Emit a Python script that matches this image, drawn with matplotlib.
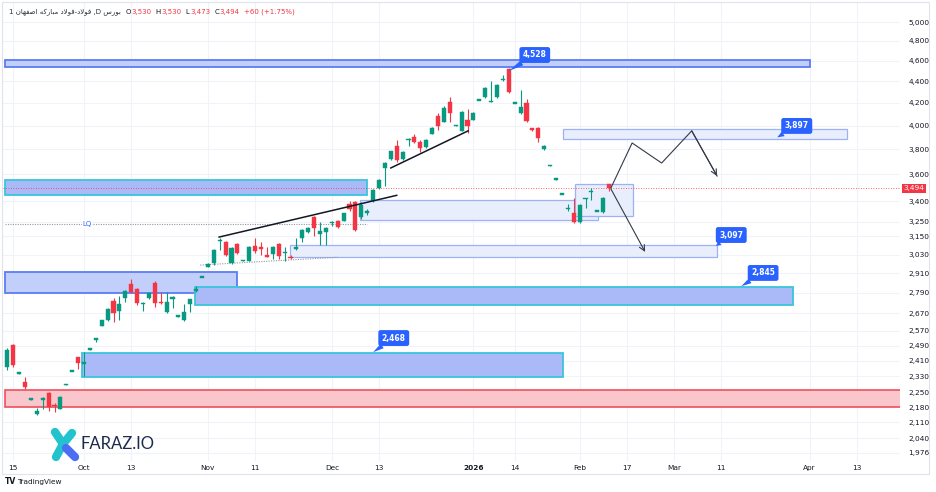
import matplotlib
matplotlib.use("Agg")
import matplotlib.pyplot as plt
import matplotlib.transforms as mtransforms
from matplotlib.patches import Rectangle
from matplotlib.lines import Line2D
from matplotlib.ticker import FixedLocator, NullLocator, FixedFormatter

# ---------------- data ----------------
opens = [2380, 2495, 2345, 2302, 2218, 2148, 2215, 2249, 2190, 2172,
         2290, 2356, 2430, 2395, 2470, 2520, 2600, 2631, 2741, 2683,
         2760, 2845, 2813, 2725, 2760, 2850, 2735, 2677, 2755, 2652,
         2631, 2724, 2800, 2885, 2950, 2975, 3120, 3113, 2975, 3100,
         2992, 2988, 3087, 3075, 3030, 3033, 3100, 3040, 3015, 3068,
         3140, 3180, 3285, 3170, 3180, 3240, 3260, 3260, 3380, 3394,
         3285, 3310, 3400, 3500, 3650, 3722, 3828, 3722, 3875, 3900,
         3860, 3820, 3930, 4080, 4035, 4210, 3998, 3955, 4050, 4050,
         4225, 4250, 4210, 4250, 4410, 4522, 4198, 4110, 4200, 3975,
         3980, 3800, 3668, 3563, 3451, 3340, 3310, 3250, 3415, 3465,
         3328, 3320, 3530]
highs = [2475, 2500, 2350, 2327, 2222, 2177, 2228, 2252, 2200, 2232,
         2294, 2360, 2432, 2455, 2474, 2532, 2632, 2700, 2760, 2772,
         2805, 2874, 2820, 2735, 2795, 2862, 2795, 2795, 2770, 2656,
         2724, 2755, 2830, 2889, 2975, 3065, 3140, 3118, 3080, 3105,
         2996, 3085, 3140, 3113, 3080, 3085, 3105, 3080, 3030, 3140,
         3198, 3215, 3290, 3250, 3215, 3260, 3265, 3315, 3400, 3400,
         3390, 3345, 3487, 3565, 3700, 3790, 3878, 3785, 3895, 3930,
         3880, 3885, 3985, 4110, 4175, 4255, 4002, 4125, 4150, 4115,
         4229, 4345, 4400, 4375, 4460, 4528, 4202, 4320, 4235, 3980,
         3990, 3835, 3672, 3567, 3455, 3380, 3420, 3380, 3425, 3495,
         3332, 3430, 3530]
lows = [2365, 2380, 2343, 2270, 2216, 2145, 2172, 2162, 2160, 2170,
        2289, 2355, 2368, 2330, 2468, 2508, 2595, 2625, 2620, 2631,
        2736, 2790, 2720, 2683, 2755, 2707, 2725, 2672, 2700, 2650,
        2628, 2677, 2795, 2884, 2948, 2965, 3060, 3020, 2970, 3035,
        2990, 2985, 3040, 3027, 3012, 3000, 3000, 2985, 3000, 3060,
        3110, 3175, 3150, 3090, 3090, 3225, 3210, 3255, 3330, 3190,
        3270, 3300, 3395, 3490, 3510, 3715, 3700, 3715, 3830, 3850,
        3780, 3815, 3925, 3960, 4030, 4035, 3996, 3950, 3940, 4045,
        4223, 4245, 4205, 4245, 4400, 4295, 4196, 4105, 4030, 3955,
        3860, 3795, 3666, 3561, 3449, 3330, 3245, 3245, 3350, 3408,
        3326, 3310, 3473]
closes = [2465, 2388, 2348, 2278, 2220, 2162, 2225, 2181, 2186, 2229,
          2292, 2358, 2398, 2402, 2472, 2530, 2630, 2695, 2672, 2724,
          2801, 2795, 2730, 2730, 2790, 2730, 2728, 2736, 2765, 2654,
          2677, 2753, 2815, 2887, 2970, 3060, 3126, 3027, 3073, 3040,
          2994, 3080, 3053, 3068, 3015, 3080, 3020, 3048, 3005, 3080,
          3194, 3210, 3208, 3185, 3210, 3250, 3215, 3310, 3340, 3194,
          3374, 3325, 3482, 3560, 3690, 3785, 3714, 3780, 3890, 3860,
          3810, 3880, 3980, 4000, 4155, 4110, 4000, 4120, 4000, 4110,
          4227, 4340, 4215, 4370, 4420, 4300, 4200, 4165, 4040, 3960,
          3895, 3830, 3670, 3565, 3453, 3350, 3250, 3374, 3420, 3475,
          3330, 3420, 3494]

last_price = 3494
price_ticks = [5000, 4800, 4600, 4400, 4200, 4000, 3800, 3600, 3400, 3250,
               3150, 3030, 2910, 2790, 2670, 2570, 2490, 2410, 2330, 2250,
               2180, 2110, 2040, 1976]
date_tick_pos = [1, 13, 21, 34, 42, 55, 63, 79, 86, 97, 105, 113, 121, 136, 144]
date_tick_labels = ["15", "Oct", "13", "Nov", "11", "Dec", "13", "2026", "14",
                    "Feb", "17", "Mar", "11", "Apr", "13"]

# zones
zone_x0 = [-0.4, -0.4, 59.8, 96.2, 47.9, 94.2, -0.4, 31.8, 12.7, -0.4]
zone_x1 = [136.1, 61.0, 100.1, 106.0, 120.3, 142.3, 38.9, 133.2, 94.2, 151.5]
zone_lo = [4540, 3446, 3264, 3290, 3012, 3886, 2789, 2717, 2327, 2181]
zone_hi = [4607, 3557, 3408, 3530, 3093, 3974, 2918, 2825, 2451, 2263]
zone_kind = ["blue", "cyan", "light", "light", "light", "light", "blue", "cyan", "cyan", "red"]

# callouts
callout_text = ["4,528", "3,897", "3,097", "2,845", "2,468"]
callout_ax = [85.0, 130.5, 120.1, 124.4, 62.0]
callout_ap = [4500, 3900, 3087, 2830, 2455]
callout_bx = [89.4, 133.8, 122.7, 128.1, 65.5]
callout_bp = [4657, 3997, 3160, 2912, 2531]

# trend lines
trend1_x = [35.9, 66.0]
trend1_p = [3146, 3442]
trend2_x = [65.0, 78.1]
trend2_p = [3651, 3955]
dotted_trend_x = [32.7, 56.0]
dotted_trend_p = [2962, 3012]
lq_x = [-0.4, 61.0]
lq_p = 3236

# projected paths
path_up_x = [102.3, 105.9, 110.9, 116.0, 120.3]
path_up_p = [3497, 3853, 3690, 3955, 3588]
path_dn_x = [102.3, 108.1]
path_dn_p = [3490, 3047]

header_name = "فولاد-فولاد مبارکه اصفهان"
header_exchange = "بورس"
header_values = [("O", "3,530"), ("H", "3,530"), ("L", "3,473"), ("C", "3,494")]
header_change = "+60 (+1.75%)"

# ---------------- Persian shaping helper ----------------
FORMS = {
    'ا': ('\uFE8D', '\uFE8E', None, None),
    'د': ('\uFEA9', '\uFEAA', None, None),
    'ر': ('\uFEAD', '\uFEAE', None, None),
    'و': ('\uFEED', '\uFEEE', None, None),
    'ب': ('\uFE8F', '\uFE90', '\uFE91', '\uFE92'),
    'س': ('\uFEB1', '\uFEB2', '\uFEB3', '\uFEB4'),
    'ص': ('\uFEB9', '\uFEBA', '\uFEBB', '\uFEBC'),
    'ف': ('\uFED1', '\uFED2', '\uFED3', '\uFED4'),
    'ل': ('\uFEDD', '\uFEDE', '\uFEDF', '\uFEE0'),
    'م': ('\uFEE1', '\uFEE2', '\uFEE3', '\uFEE4'),
    'ن': ('\uFEE5', '\uFEE6', '\uFEE7', '\uFEE8'),
    'ه': ('\uFEE9', '\uFEEA', '\uFEEB', '\uFEEC'),
    'ک': ('\uFB8E', '\uFB8F', '\uFB90', '\uFB91'),
}
LAM_ALEF = ('\uFEFB', '\uFEFC')


def _dual(ch):
    return ch in FORMS and FORMS[ch][2] is not None


def shape(s):
    out = []
    i = 0
    while i < len(s):
        ch = s[i]
        if ch not in FORMS:
            out.append(ch)
            i += 1
            continue
        prev = s[i - 1] if i > 0 else ''
        jp = _dual(prev)
        if ch == 'ل' and i + 1 < len(s) and s[i + 1] == 'ا':
            out.append(LAM_ALEF[1] if jp else LAM_ALEF[0])
            i += 2
            continue
        nxt = s[i + 1] if i + 1 < len(s) else ''
        jn = _dual(ch) and nxt in FORMS
        iso, fin, ini, med = FORMS[ch]
        if jp and jn:
            out.append(med)
        elif jp:
            out.append(fin)
        elif jn:
            out.append(ini)
        else:
            out.append(iso)
        i += 1
    return ''.join(reversed(out))


# ---------------- figure ----------------
plt.rcParams['font.family'] = ['DejaVu Sans']
W, H = 936, 492
fig = plt.figure(figsize=(W / 100, H / 100), dpi=100)
fig.patch.set_facecolor('white')

ax = fig.add_axes([3 / W, 1 - 461 / H, (900 - 3) / W, (461 - 3) / H])
ax.set_yscale('log')
ax.set_ylim(1942, 5209)
ax.set_xlim(-0.73, 151.3)
for s in ax.spines.values():
    s.set_visible(False)

GREEN = '#089981'
RED = '#f23645'
TEXT = '#131722'
GRID = '#f0f3fa'

ax.yaxis.set_major_locator(FixedLocator(price_ticks))
ax.yaxis.set_minor_locator(NullLocator())
ax.yaxis.set_major_formatter(FixedFormatter([f"{p:,}" for p in price_ticks]))
ax.yaxis.tick_right()
ax.tick_params(axis='y', length=0, pad=6, labelsize=5.3, labelcolor=TEXT)
ax.xaxis.set_major_locator(FixedLocator(date_tick_pos))
ax.xaxis.set_minor_locator(NullLocator())
ax.set_xticklabels(date_tick_labels)
ax.tick_params(axis='x', length=0, pad=3, labelsize=5.3, labelcolor=TEXT)
for lbl in ax.get_xticklabels():
    if lbl.get_text() == "2026":
        lbl.set_fontweight('bold')
ax.grid(True, color=GRID, lw=0.8)
ax.set_axisbelow(True)

zone_styles = {
    'blue': dict(fc='#c3cffb', ec='#5a7df5', lw=1.3),
    'cyan': dict(fc='#aab9f8', ec='#38c6d9', lw=1.3),
    'light': dict(fc='#e9eefd', ec='#9cb1f6', lw=0.9),
    'red': dict(fc='#f9c6cb', ec='#f0505e', lw=1.2),
}
for x0, x1, lo, hi, k in zip(zone_x0, zone_x1, zone_lo, zone_hi, zone_kind):
    st = zone_styles[k]
    ax.add_patch(Rectangle((x0, lo), x1 - x0, hi - lo, facecolor=st['fc'],
                           edgecolor=st['ec'], lw=st['lw'], zorder=1))

ax.plot(lq_x, [lq_p, lq_p], color='#9598a1', lw=0.8, ls=(0, (1, 1.2)), zorder=2)
ax.text(13.5, lq_p, "LQ", color='#2962ff', fontsize=5, ha='center', va='center',
        zorder=3, bbox=dict(fc='white', ec='none', pad=0.6))
ax.plot(dotted_trend_x, dotted_trend_p, color='#9598a1', lw=0.8, ls=(0, (1, 1.2)), zorder=2)

ax.axhline(last_price, color=RED, lw=0.6, ls=(0, (1, 2)), zorder=2)

n = len(opens)
for i in range(n):
    o, h, l, c = opens[i], highs[i], lows[i], closes[i]
    col = GREEN if c >= o else RED
    ax.vlines(i, l, h, color=col, lw=0.8, zorder=4)
    lo_b, hi_b = min(o, c), max(o, c)
    if hi_b / lo_b < 1.003:
        mid = (hi_b * lo_b) ** 0.5
        lo_b, hi_b = mid / 1.0015, mid * 1.0015
    ax.bar(i, hi_b - lo_b, bottom=lo_b, width=0.7, color=col, edgecolor=col,
           lw=0.3, zorder=5)

ax.plot(trend1_x, trend1_p, color='#131722', lw=1.1, zorder=6)
ax.plot(trend2_x, trend2_p, color='#131722', lw=1.1, zorder=6)

ax.plot(path_up_x, path_up_p, color='#363a45', lw=0.8, zorder=6)
ax.annotate('', xy=(path_up_x[-1], path_up_p[-1]), xytext=(path_up_x[-2], path_up_p[-2]),
            arrowprops=dict(arrowstyle='->', color='#363a45', lw=0.8, shrinkA=0, shrinkB=0),
            zorder=6)
ax.annotate('', xy=(path_dn_x[-1], path_dn_p[-1]), xytext=(path_dn_x[0], path_dn_p[0]),
            arrowprops=dict(arrowstyle='->', color='#363a45', lw=0.8, shrinkA=0, shrinkB=0),
            zorder=6)

for t, axx, app, bx, bp in zip(callout_text, callout_ax, callout_ap, callout_bx, callout_bp):
    ax.annotate(t, xy=(axx, app), xytext=(bx, bp), color='white', fontsize=5.5,
                fontweight='bold', ha='center', va='center', zorder=8,
                bbox=dict(boxstyle='round,pad=0.45,rounding_size=0.3', fc='#2962ff', ec='none'),
                arrowprops=dict(arrowstyle='wedge,tail_width=0.7,shrink_factor=0.5',
                                fc='#2962ff', ec='none', shrinkA=0, shrinkB=0))

trans = mtransforms.blended_transform_factory(ax.transAxes, ax.transData)
ax.text(1.004, last_price, f"{last_price:,}", transform=trans, color='white', fontsize=5.3,
        ha='left', va='center', clip_on=False, zorder=9,
        bbox=dict(boxstyle='square,pad=0.25', fc=RED, ec='none'))

# header, placed piece by piece
renderer = fig.canvas.get_renderer()
hy = 1 - 12 / H
pieces = [("1 " + shape(header_name) + " ,D " + shape(header_exchange), '#2a2e39', 5)]
for k, v in header_values:
    pieces.append((k, TEXT, 0.5))
    pieces.append((v, RED, 4))
pieces.append((header_change, RED, 0))
xpix = 9.0
for t, col, gap in pieces:
    txt = fig.text(xpix / W, hy, t, fontsize=5.0, color=col, va='center', ha='left')
    bb = txt.get_window_extent(renderer=renderer)
    xpix += bb.width + gap

fig.add_artist(Rectangle((2 / W, 1 - 474 / H), 927 / W, 472 / H, transform=fig.transFigure,
                         fill=False, ec='#e0e3eb', lw=0.8))


def fp(x, y):
    return (x / W, 1 - y / H)


cx, cy = 63, 444
arms = [((cx, cy), (55, 432), '#22c3cf'), ((cx, cy), (72, 433), '#22c3cf'),
        ((cx, cy), (56, 457), '#22c3cf'), ((cx + 3, cy + 4), (75, 457), '#4c6ef5')]
for (x0, y0), (x1, y1), col in arms:
    p0, p1 = fp(x0, y0), fp(x1, y1)
    fig.add_artist(Line2D([p0[0], p1[0]], [p0[1], p1[1]], transform=fig.transFigure,
                          color=col, lw=6, solid_capstyle='round'))
fig.text(81 / W, 1 - 444 / H, "FARAZ.IO", fontsize=12, color='#1c2b4b', va='center',
         ha='left', family='Lato')

fig.text(5 / W, 1 - 482 / H, "TV", fontsize=5.5, fontweight='bold', color=TEXT,
         va='center', ha='left')
fig.text(17 / W, 1 - 482 / H, "TradingView", fontsize=5.3, color=TEXT, va='center', ha='left')

fig.savefig("out.png", dpi=100, facecolor='white')
